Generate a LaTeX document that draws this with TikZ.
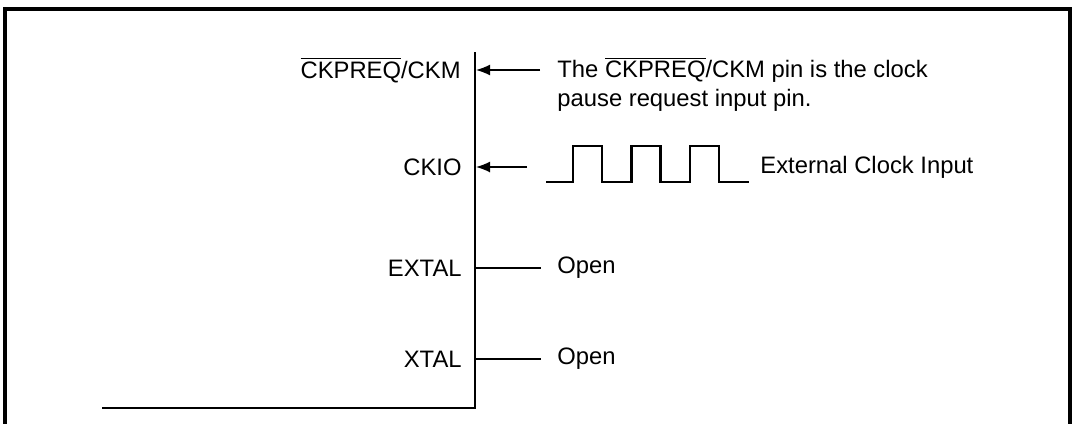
\documentclass[tikz,border=0pt]{standalone}
\usepackage{fontspec}
\setmainfont{Liberation Sans}
\usetikzlibrary{arrows.meta,positioning}

\tikzstyle{pin} = [inner sep=0pt, anchor=east]
\tikzstyle{note} = [inner sep=0pt, anchor=west, align=left]
\tikzstyle{line} = [draw, line width=0.75pt, -{Latex[length=7pt, width=5.5pt]}]
\tikzstyle{wire} = [draw, line width=0.75pt]
\tikzstyle{wave} = [draw, line width=1.2pt]
\newcommand{\ovl}[1]{$\overline{\mbox{#1}}$}

\begin{document}
\begin{tikzpicture}[x=0.5pt, y=-0.5pt, font=\fontsize{11.9}{14.5}\selectfont]
\useasboundingbox (0,0) rectangle (1075,423);
% frame
\draw[line width=1.6pt] (5,440) -- (5,9) -- (1070,9) -- (1070,440);
% chip edge
\draw[line width=1.4pt] (102,408) -- (475,408) -- (475,52);

\node [pin] (CKM) at (461,70) {\ovl{CKPREQ}/CKM};
\node [pin] (CKIO) at (462,167) {CKIO};
\node [pin] (EXTAL) at (462,268) {EXTAL};
\node [pin] (XTAL) at (462,359) {XTAL};

\coordinate (CKMpin) at (476,70);
\coordinate (CKIOpin) at (476,167);
\coordinate (EXTALpin) at (476,268);
\coordinate (XTALpin) at (476,359);

\node [note] (CKMnote) at (557,84) {The \ovl{CKPREQ}/CKM pin is the clock\\pause request input pin.};
\node [note] (Clock) at (760,167) {External Clock Input};
\node [note] (EXTALopen) at (557,268) {Open};
\node [note] (XTALopen) at (557,359) {Open};

\coordinate (CKMfrom) at (540,70);
\coordinate (CKIOfrom) at (527,167);
\coordinate (Wave) at (546,182);

\path [line] (CKMfrom) -- (CKMpin);
\path [line] (CKIOfrom) -- (CKIOpin);
\path [wire] (EXTALpin) -- ++(65,0);
\path [wire] (XTALpin) -- ++(65,0);

% clock waveform
\path [wave] (Wave) -- ++(27,0)
  \foreach \i in {1,2,3} { -- ++(0,-36) -- ++(29,0) -- ++(0,36) -- ++(29.5,0) } ;
\end{tikzpicture}
\end{document}
